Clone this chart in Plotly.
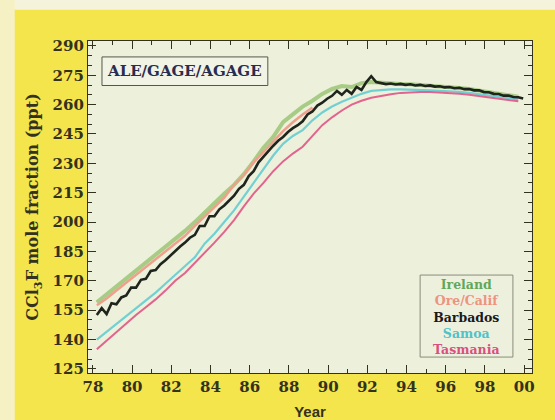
import plotly.graph_objects as go

# ---------------- data (ppt) ----------------
barbados = [152.5, 156, 153, 158.5, 158, 161.5, 162.5, 166.5, 166.5, 170.5, 171, 175,
            175.5, 178.5, 180.5, 183, 185, 187.5, 189.5, 192, 193.5, 198, 198, 203,
            203, 206.5, 208.5, 211, 213.5, 217, 219, 223.5, 226, 230.5, 233.5, 236.5,
            239, 241.5, 243.5, 246, 248, 249.5, 251.5, 255, 256.5, 259.5, 261, 263,
            264.5, 267, 265, 267.5, 265.5, 269, 267.5, 271.5, 274.5, 271.5, 271, 270.5,
            270.8, 270.3, 270.6, 270.1, 270.4, 269.8, 270.1, 269.5, 269.8, 269.2, 269.4, 268.8,
            269, 268.4, 268.6, 267.9, 268, 267.3, 267.3, 266.4, 266.3, 265.5, 265.4, 264.6,
            264.6, 263.9, 263.8, 263.1]
barbados_start, barbados_step = 78.2, 0.25

ireland = [159, 163, 167, 171, 175, 179, 183, 187, 191, 195.5, 200, 205,
           209.5, 214.5, 219, 224.5, 231, 238, 243.5, 251, 255, 259, 262, 265.5,
           268, 269.5, 269, 271, 271.5, 271, 270.8, 270.5, 270.4, 270.1, 269.8, 269.4,
           269, 268.5, 268, 267.3, 266.5, 265.6, 264.8, 264]
ore_calif = [157.5, 161, 165, 169, 173, 177, 181, 185, 189, 193, 198, 203,
             207.5, 212.5, 219, 224, 230.5, 236, 241.5, 246.5, 251, 255, 258.5]
samoa = [140, 144, 148, 152, 156, 160, 164, 168.5, 173, 177, 182, 189,
         194, 200, 206, 213, 220, 227, 234, 240, 244, 247, 252, 256,
         259, 261.5, 263.5, 265.5, 267, 267.5, 267.8, 267.8, 267.7, 267.5, 267.3, 267,
         266.8, 266.5, 266, 265.4, 264.7, 264, 263.3, 262.6]
tasmania = [135, 139.5, 144, 148.5, 152.5, 156.5, 160.5, 165, 170, 174, 179, 184,
            189.5, 195, 201, 208, 214.5, 220, 226, 231, 235, 238.5, 244, 249.5,
            253.5, 257, 260, 262, 263.5, 264.5, 265.3, 266, 266.3, 266.5, 266.5, 266.3,
            266, 265.6, 265, 264.4, 263.7, 263, 262.3, 261.7]
site_start, site_step = 78.2, 0.5

y_ticks = [125, 140, 155, 170, 185, 200, 215, 230, 245, 260, 275, 290]
x_ticks = [78, 80, 82, 84, 86, 88, 90, 92, 94, 96, 98, 100]
x_labels = ["78", "80", "82", "84", "86", "88", "90", "92", "94", "96", "98", "00"]

sites = ["Ireland", "Ore/Calif", "Barbados", "Samoa", "Tasmania"]
site_colors = ["#5fa85a", "#ec9480", "#1a1a1a", "#4fc3c8", "#d9507e"]
line_colors = ["#a8cc86", "#eea08c", "#1f241c", "#72d0d3", "#e2648e"]

# ---------------- figure ----------------
def times(start, step, n):
    return [round(start + step * i, 3) for i in range(n)]

fig = go.Figure()
series = {"Ireland": (ireland, site_start, site_step),
          "Ore/Calif": (ore_calif, site_start, site_step),
          "Samoa": (samoa, site_start, site_step),
          "Tasmania": (tasmania, site_start, site_step),
          "Barbados": (barbados, barbados_start, barbados_step)}
widths = {"Ireland": 4, "Ore/Calif": 2.5, "Samoa": 2.2, "Tasmania": 2.0, "Barbados": 2.6}
for name in ["Ireland", "Ore/Calif", "Samoa", "Tasmania", "Barbados"]:
    vals, st, sp = series[name]
    c = line_colors[sites.index(name)]
    fig.add_trace(go.Scatter(x=times(st, sp, len(vals)), y=vals, mode="lines",
                             line=dict(color=c, width=widths[name]),
                             name=name, showlegend=False))

ink = "#33321e"
tick_font = dict(family="DejaVu Serif", size=15, color=ink)
axis_common = dict(showline=True, linecolor=ink, linewidth=1.2, mirror="allticks",
                   ticks="inside", ticklen=8, tickwidth=1.1, tickcolor=ink,
                   showgrid=False, zeroline=False, tickfont=tick_font, automargin=False)

fig.update_xaxes(range=[77.75, 100.4], tickvals=x_ticks,
                 ticktext=[f"<b>{t}</b>" for t in x_labels],
                 minor=dict(dtick=1, tick0=78, ticks="inside", ticklen=4, tickcolor=ink),
                 title=dict(text="<b>Year</b>", font=dict(family="Liberation Sans", size=15, color=ink),
                            standoff=14),
                 **axis_common)
fig.update_yaxes(range=[122.9, 292.5], tickvals=y_ticks,
                 ticktext=[f"<b>{t}</b>" for t in y_ticks],
                 minor=dict(dtick=5, tick0=125, ticks="inside", ticklen=4, tickcolor=ink),
                 title=dict(text="<b>CCl<sub>3</sub>F mole fraction (ppt)</b>",
                            font=dict(family="DejaVu Serif", size=16, color=ink), standoff=9),
                 **axis_common)

# pale strips at top and left edge of the scanned page
fig.add_shape(type="rect", xref="paper", yref="paper", x0=-0.3, x1=1.1, y0=1.094, y1=1.2,
              fillcolor="#f6f3dc", line_width=0, layer="below")
fig.add_shape(type="rect", xref="paper", yref="paper", x0=-0.3, x1=-0.165, y0=-0.2, y1=1.2,
              fillcolor="#f6f1c4", line_width=0, layer="below")

# title box
fig.add_shape(type="rect", xref="paper", yref="paper", x0=0.0315, x1=0.405, y0=0.866, y1=0.952,
              fillcolor="#f1f3e4", line=dict(color="#55574a", width=1))
fig.add_annotation(xref="paper", yref="paper", x=0.218, y=0.909, xanchor="center", yanchor="middle",
                   text="<b>ALE/GAGE/AGAGE</b>", showarrow=False,
                   font=dict(family="DejaVu Serif", size=15, color="#2a2d4e"))

# legend box
fig.add_shape(type="rect", xref="paper", yref="paper", x0=0.748, x1=0.957, y0=0.048, y1=0.295,
              fillcolor="#eef0de", line=dict(color="#8a8c7a", width=1))
legend_text = "<br>".join(f"<span style='color:{c}'><b>{s}</b></span>" for s, c in zip(sites, site_colors))
fig.add_annotation(xref="paper", yref="paper", x=0.852, y=0.168, xanchor="center", yanchor="middle",
                   text=legend_text, showarrow=False, align="center",
                   font=dict(family="DejaVu Serif", size=12.5))

fig.update_layout(width=555, height=420, margin=dict(l=88, r=23, t=41, b=47),
                  paper_bgcolor="#f3e54b", plot_bgcolor="#edf0da", showlegend=False)

fig.write_html("out.html")
